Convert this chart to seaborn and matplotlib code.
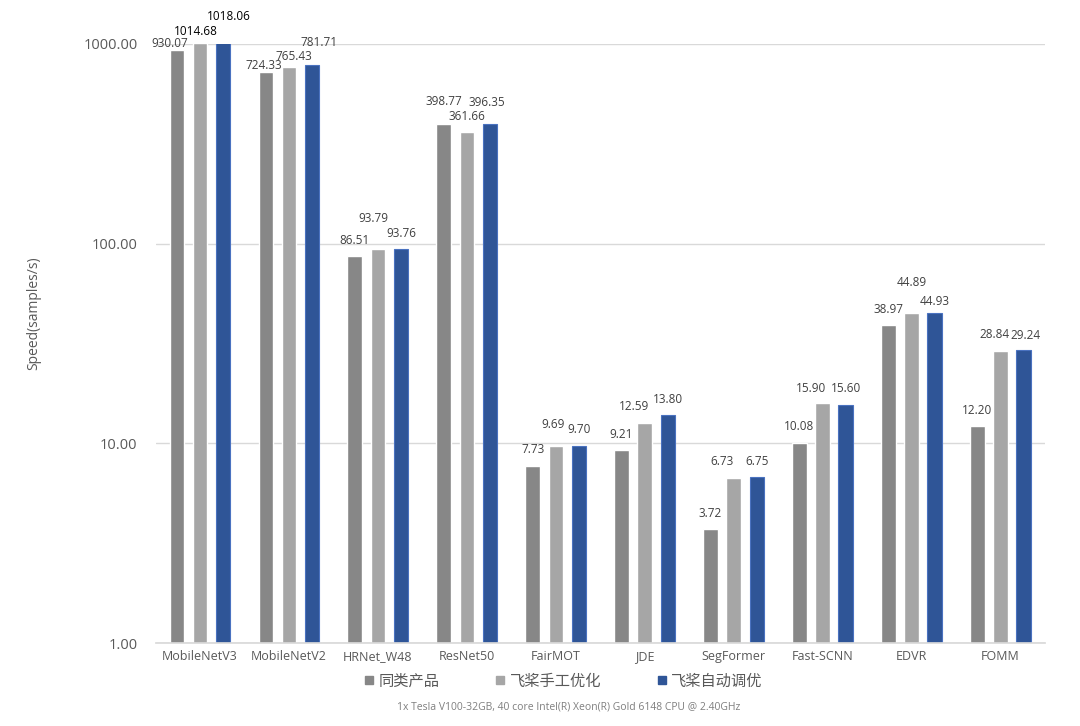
import pandas as pd
import matplotlib
matplotlib.use("Agg")
import matplotlib.pyplot as plt
import seaborn as sns
from matplotlib.ticker import FixedLocator, FuncFormatter, NullLocator
from matplotlib.lines import Line2D

# Dados
models = ["MobileNetV3", "MobileNetV2", "HRNet_W48", "ResNet50", "FairMOT",
          "JDE", "SegFormer", "Fast-SCNN", "EDVR", "FOMM"]
series = ["同类产品", "飞桨手工优化", "飞桨自动调优"]
competitor = [930.07, 724.33, 86.51, 398.77, 7.73, 9.21, 3.72, 10.08, 38.97, 12.20]
paddle_manual = [1014.68, 765.43, 93.79, 361.66, 9.69, 12.59, 6.73, 15.90, 44.89, 28.84]
paddle_auto = [1018.06, 781.71, 93.76, 396.35, 9.70, 13.80, 6.75, 15.60, 44.93, 29.24]
yticks = [1, 10, 100, 1000]
footer = "1x Tesla V100-32GB, 40 core Intel(R) Xeon(R) Gold 6148 CPU @ 2.40GHz"

colors = ["#878787", "#a6a6a6", "#2f5597"]

df = pd.DataFrame({
    "model": models * 3,
    "series": [s for s in series for _ in models],
    "speed": competitor + paddle_manual + paddle_auto,
})

# ajustes manuais das etiquetas (dx, dy em pixels), como no original
nudges = {
    (0, 0): (-7, -9), (0, 1): (-2.5, -10), (0, 3): (0, 6),
    (1, 0): (-4, -4), (1, 1): (5, -5), (1, 2): (-5, 15), (1, 4): (-3, 6),
    (1, 5): (-11, 1), (1, 6): (-12, 0), (1, 7): (-12, -1), (1, 8): (0, 15),
    (1, 9): (-6, 1),
    (2, 0): (5.5, 11), (2, 1): (6.5, 7), (2, 3): (-3, 6), (2, 8): (0, -4),
    (2, 9): (2, -1),
}

sns.set_theme(style="white")
plt.rcParams["font.family"] = ["Open Sans", "Noto Sans CJK SC", "DejaVu Sans"]

fig = plt.figure(figsize=(10.8, 7.26), dpi=100)
ax = fig.add_axes([0.144, 0.1143, 0.8236, 0.8251])

sns.barplot(data=df, x="model", y="speed", hue="series", order=models,
            hue_order=series, palette=colors, saturation=1, width=0.78,
            gap=0.37, errorbar=None, legend=False, ax=ax)

ax.set_yscale("log")
ax.set_ylim(1, 1000)
ax.set_xlim(-0.5, len(models) - 0.5)
ax.yaxis.set_major_locator(FixedLocator(yticks))
ax.yaxis.set_minor_locator(NullLocator())
ax.yaxis.set_major_formatter(FuncFormatter(lambda v, p: f"{v:.2f}"))
ax.grid(axis="y", color="#d9d9d9", linewidth=1)
ax.set_axisbelow(True)
for s in ["top", "right", "left"]:
    ax.spines[s].set_visible(False)
ax.spines["bottom"].set_color("#d9d9d9")
ax.tick_params(axis="y", length=0, pad=13, labelsize=10.5, labelcolor="#595959")
ax.tick_params(axis="x", length=0, pad=5, labelsize=9, labelcolor="#595959")
ax.set_xlabel("")
ax.set_ylabel("Speed(samples/s)", fontsize=10, color="#595959")
ax.yaxis.set_label_coords(-0.129, 0.551)

# contorno azul mais claro nas barras azuis
for bar in ax.containers[2]:
    bar.set_edgecolor("#4a72c0")
    bar.set_linewidth(0.8)

# etiquetas de valor
for si, cont in enumerate(ax.containers):
    for mi, bar in enumerate(cont):
        val = bar.get_height()
        top = min(val, 1000)
        dx, dy = nudges.get((si, mi), (0, 0))
        color = "black" if val > 1000 else "#404040"
        ax.annotate(f"{val:.2f}", (bar.get_x() + bar.get_width() / 2, top),
                    xytext=(dx * 0.72, (16 + dy) * 0.72), textcoords="offset points",
                    ha="center", va="center", fontsize=8.5, color=color,
                    clip_on=False, annotation_clip=False)

handles = [Line2D([], [], marker="s", linestyle="none", markersize=6,
                  markerfacecolor=c, markeredgecolor=c) for c in colors]
fig.legend(handles, series, loc="center", bbox_to_anchor=(0.522, 0.0606),
           ncol=3, frameon=False, fontsize=11, labelcolor="#595959",
           handlelength=0.6, handletextpad=0.3, columnspacing=3.7)

fig.text(0.527, 0.026, footer, ha="center", va="center", fontsize=7.5, color="#7f7f7f")

fig.savefig("out.png", dpi=100)
